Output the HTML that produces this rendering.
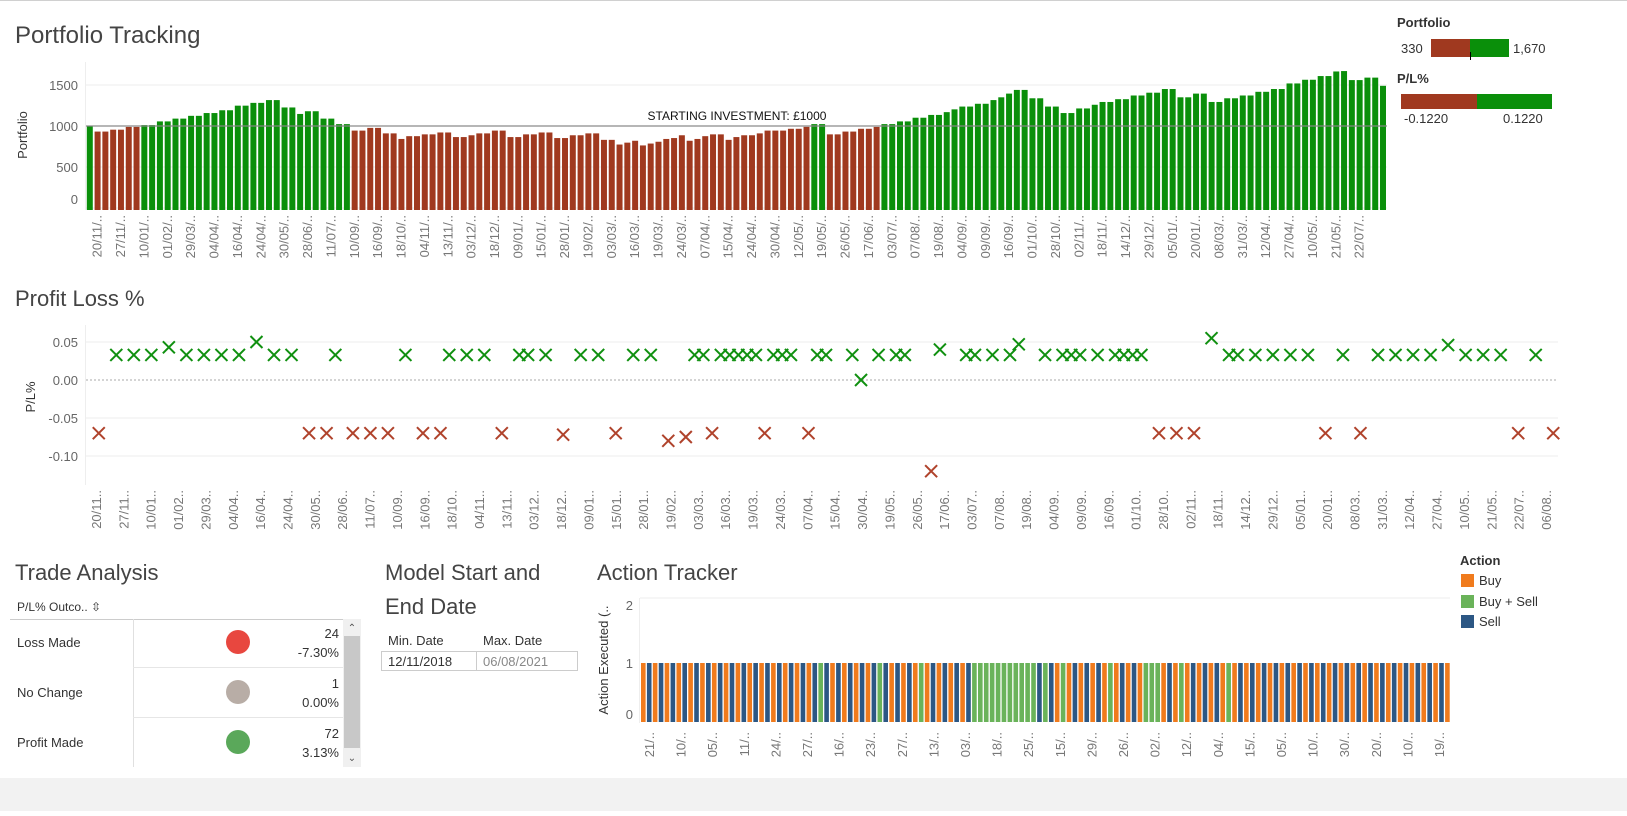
<!DOCTYPE html>
<html><head><meta charset="utf-8"><style>
body{margin:0;background:#fff;font-family:"Liberation Sans",sans-serif;}
svg text{font-family:"Liberation Sans",sans-serif;}
</style></head><body>
<svg id="dash" width="1627" height="811" xmlns="http://www.w3.org/2000/svg">
<rect x="0" y="0" width="1627" height="1" fill="#d0d0d0"/>
<rect x="0" y="778" width="1627" height="33" fill="#f2f2f2"/>
<text x="15" y="43" font-size="24" fill="#444">Portfolio Tracking</text>
<text x="15" y="306" font-size="22" fill="#444">Profit Loss %</text>
<text x="15" y="580" font-size="22" fill="#444">Trade Analysis</text>
<text x="385" y="580" font-size="22" fill="#444">Model Start and</text>
<text x="385" y="614" font-size="22" fill="#444">End Date</text>
<text x="597" y="580" font-size="22" fill="#444">Action Tracker</text>

<g>
<text x="1397" y="27" font-size="13" font-weight="bold" fill="#333">Portfolio</text>
<text x="1401" y="53" font-size="13" fill="#333">330</text>
<rect x="1431" y="39" width="40" height="18" fill="#a0391f"/>
<rect x="1470" y="39" width="39" height="18" fill="#0a8f0a"/>
<rect x="1470" y="52" width="1" height="8" fill="#000"/>
<text x="1513" y="53" font-size="13" fill="#333">1,670</text>
<text x="1397" y="83" font-size="13" font-weight="bold" fill="#333">P/L%</text>
<rect x="1401" y="94" width="76" height="15" fill="#a0391f"/>
<rect x="1477" y="94" width="75" height="15" fill="#0a8f0a"/>
<text x="1404" y="123" font-size="13" fill="#333">-0.1220</text>
<text x="1503" y="123" font-size="13" fill="#333">0.1220</text>
</g>

<g>
<text x="17" y="611" font-size="12" fill="#333">P/L% Outco.. ⇳</text>
<rect x="10" y="619" width="333" height="1" fill="#ccc"/>
<rect x="133" y="619" width="1" height="148" fill="#e0e0e0"/>
<rect x="133" y="667" width="210" height="1" fill="#e6e6e6"/>
<rect x="133" y="717" width="210" height="1" fill="#e6e6e6"/>
<text x="17" y="647" font-size="13" fill="#333">Loss Made</text>
<text x="17" y="697" font-size="13" fill="#333">No Change</text>
<text x="17" y="747" font-size="13" fill="#333">Profit Made</text>
<circle cx="238" cy="642" r="12" fill="#e8473f"/>
<circle cx="238" cy="692" r="12" fill="#b8ada6"/>
<circle cx="238" cy="742" r="12" fill="#5aa85a"/>
<g font-size="13" fill="#333" text-anchor="end">
<text x="339" y="638">24</text>
<text x="339" y="657">-7.30%</text>
<text x="339" y="688">1</text>
<text x="339" y="707">0.00%</text>
<text x="339" y="738">72</text>
<text x="339" y="757">3.13%</text>
</g>
<rect x="343" y="619" width="18" height="148" fill="#f0f0f0"/>
<rect x="344" y="636" width="16" height="112" fill="#c8c8c8"/>
<text x="352" y="631" font-size="10" fill="#555" text-anchor="middle">⌃</text>
<text x="352" y="761" font-size="10" fill="#555" text-anchor="middle">⌄</text>
</g>

<g>
<text x="388" y="645" font-size="13" fill="#333">Min. Date</text>
<text x="483" y="645" font-size="13" fill="#333">Max. Date</text>
<rect x="381.5" y="651.5" width="196" height="19" fill="none" stroke="#ccc"/>
<rect x="476" y="652" width="1" height="18" fill="#ccc"/>
<text x="388" y="666" font-size="13" fill="#333">12/11/2018</text>
<text x="483" y="666" font-size="13" fill="#888">06/08/2021</text>
</g>

<g>
<text x="1460" y="565" font-size="13" font-weight="bold" fill="#333">Action</text>
<rect x="1461" y="574" width="13" height="13" fill="#f07b1d"/>
<text x="1479" y="585" font-size="13" fill="#333">Buy</text>
<rect x="1461" y="595" width="13" height="13" fill="#6ab35a"/>
<text x="1479" y="606" font-size="13" fill="#333">Buy + Sell</text>
<rect x="1461" y="615" width="13" height="13" fill="#2c5784"/>
<text x="1479" y="626" font-size="13" fill="#333">Sell</text>
</g>
<g id="charts"></g>
</svg>
<script>
const portfolioValues=[1000,932,932,955,955,989,989,1011,1011,1056,1056,1090,1090,1124,1124,1158,1158,1192,1192,1248,1248,1282,1282,1316,1316,1226,1226,1147,1180,1180,1090,1090,1023,1023,944,944,977,977,910,910,842,876,876,898,898,921,921,865,865,887,910,910,944,944,865,865,898,898,921,921,853,853,887,887,910,910,831,831,774,797,820,763,786,808,842,
853,887,820,842,876,898,898,831,865,887,887,910,944,944,944,966,966,990,1023,1023,898,898,932,932,966,966,989,1023,1023,1056,1056,1101,1101,1135,1135,1169,1203,1237,1237,1271,1271,1316,1350,1395,1440,1440,1338,1338,1237,1237,1158,1158,1214,1214,1259,1293,1293,1327,1327,1372,1372,1406,1406,1451,1451,1350,1350,1395,1395,1293,1293,1338,1338,1372,1372,1417,1417,1451,1451,1519,1519,1564,1564,1609,1609,1665,1670,1560,1560,1590,1590,1490];
const portfolioTicks=[0,500,1000,1500];
const portfolioLabels=["20/11/..","27/11/..","10/01/..","01/02/..","29/03/..","04/04/..","16/04/..","24/04/..","30/05/..","28/06/..","11/07/..","10/09/..","16/09/..","18/10/..","04/11/..","13/11/..","03/12/..","18/12/..","09/01/..","15/01/..","28/01/..","19/02/..","03/03/..","16/03/..","19/03/..","24/03/..","07/04/..","15/04/..","24/04/..","30/04/..","12/05/..","19/05/..","26/05/..","17/06/..","03/07/..","07/08/..","19/08/..","04/09/..","09/09/..","16/09/..","01/10/..","28/10/..","02/11/..","18/11/..","14/12/..","29/12/..","05/01/..","20/01/..","08/03/..","31/03/..","12/04/..","27/04/..","10/05/..","21/05/..","22/07/.."];
const startingInvestment=1000;

const plIndex=[3,5,7,9,11,13,15,17,19,21,23,28,36,41,43,45,49,50,52,56,58,62,64,69,70,72,73,74,75,76,78,79,80,83,84,87,88,90,92,93,97,100,101,103,105,106,109,111,112,113,115,117,118,119,120,128,130,131,133,135,137,139,143,147,149,151,153,155,157,159,161,165,
1,25,27,30,32,34,38,40,47,54,60,66,68,71,77,82,96,122,124,126,141,145,163,167];
const plValue=[0.033,0.033,0.033,0.043,0.033,0.033,0.033,0.033,0.05,0.033,0.033,0.033,0.033,0.033,0.033,0.033,0.033,0.033,0.033,0.033,0.033,0.033,0.033,0.033,0.033,0.033,0.033,0.033,0.033,0.033,0.033,0.033,0.033,0.033,0.033,0.033,0.0,0.033,0.033,0.033,0.04,0.033,0.033,0.033,0.033,0.047,0.033,0.033,0.033,0.033,0.033,0.033,0.033,0.033,0.033,0.055,0.033,0.033,0.033,0.033,0.033,0.033,0.033,0.033,0.033,0.033,0.033,0.046,0.033,0.033,0.033,0.033,
-0.07,-0.07,-0.07,-0.07,-0.07,-0.07,-0.07,-0.07,-0.07,-0.072,-0.07,-0.08,-0.075,-0.07,-0.07,-0.07,-0.12,-0.07,-0.07,-0.07,-0.07,-0.07,-0.07,-0.07];
const plTicks=[0.05,0.00,-0.05,-0.10];
const plTickLabels=["0.05","0.00","-0.05","-0.10"];
const plLabels=["20/11..","27/11..","10/01..","01/02..","29/03..","04/04..","16/04..","24/04..","30/05..","28/06..","11/07..","10/09..","16/09..","18/10..","04/11..","13/11..","03/12..","18/12..","09/01..","15/01..","28/01..","19/02..","03/03..","16/03..","19/03..","24/03..","07/04..","15/04..","30/04..","19/05..","26/05..","17/06..","03/07..","07/08..","19/08..","04/09..","09/09..","16/09..","01/10..","28/10..","02/11..","18/11..","14/12..","29/12..","05/01..","20/01..","08/03..","31/03..","12/04..","27/04..","10/05..","21/05..","22/07..","06/08.."];
const plCategories=168;

const actions=("OBOBOBOBOB"+"OBOBOBOBOB"+"OBOBOBOBOB"+"GBOBOBOBOB"+"GBOBOBOGOB"+"OBOBOBGGGG"+"GGGGGGGBGB"+"OGOBOBOBOG"+"OBOBOGGGOB"+"OGOBOBOBOG"+"OBOBOBOBOB"+"OBOBOBOBOB"+"OBOBOBOBOB"+"OBOBOBO").split("");
const actionValue=1;
const actionTicks=[0,1,2];
const actionLabels=["21/..","10/..","05/..","11/..","24/..","27/..","16/..","23/..","27/..","13/..","03/..","18/..","25/..","15/..","29/..","26/..","02/..","12/..","04/..","15/..","05/..","10/..","30/..","20/..","10/..","19/.."];

const NS="http://www.w3.org/2000/svg";
const root=document.getElementById('charts');
function mk(tag,attrs,parent){const e=document.createElementNS(NS,tag);for(const k in attrs)e.setAttribute(k,attrs[k]);(parent||root).appendChild(e);return e;}

const pL=86,pR=1387,pBase=208,pScale=41/500;
const pPitch=(pR-pL)/portfolioValues.length;
const py=v=>pBase-v*pScale;
const px=i=>pL+i*pPitch;
const gP=mk('g',{});


portfolioTicks.forEach(t=>{
  const gl=mk('line',{x1:pL,x2:pR,y1:py(t),y2:py(t),stroke:'#eee'},gP);
  
  
  const tx=mk('text',{x:78,y:(t===0?py(t)-4:py(t)+5),'font-size':13,fill:'#666','text-anchor':'end'},gP);
  tx.textContent=t;
  
  
});
mk('line',{x1:pL-0.5,x2:pL-0.5,y1:62,y2:pBase+2,stroke:'#eee'},gP);
const yt=mk('text',{transform:'translate(27,135) rotate(-90)','font-size':13,fill:'#333','text-anchor':'middle'},gP);
yt.textContent='Portfolio';


portfolioValues.forEach((v,i)=>{
  const r=mk('rect',{x:px(i)+0.8,y:py(v),width:pPitch-1.8,height:pBase+2-py(v),fill:v>=startingInvestment?'#0a8f0a':'#a0391f'},gP);
  
  
});
const ref=mk('line',{x1:pL,x2:pR,y1:py(startingInvestment),y2:py(startingInvestment),stroke:'#888','stroke-width':1.5,opacity:0.8},gP);


const rl=mk('text',{x:737,y:py(startingInvestment)-6,'font-size':12,fill:'#111','text-anchor':'middle'},gP);
rl.textContent='STARTING INVESTMENT: £'+startingInvestment;


portfolioLabels.forEach((l,k)=>{
  const cx=px(1+k*3)+pPitch/2+4;
  const t=mk('text',{transform:`translate(${cx},215) rotate(-90)`,'font-size':13,fill:'#777','text-anchor':'end'},gP);
  t.textContent=l;
  
  
});

const sL=86,sR=1558,sTop=325,sBot=485;
const sPitch=(sR-sL)/plCategories;
const sx=i=>sL+4+i*sPitch;
const sy=v=>380-v*760;
const gS=mk('g',{});


mk('line',{x1:sL-0.5,x2:sL-0.5,y1:sTop,y2:sBot,stroke:'#eee'},gS);
plTicks.forEach((t,k)=>{
  if(t!==0){const gl=mk('line',{x1:sL,x2:sR,y1:sy(t),y2:sy(t),stroke:'#eee'},gS);
  
  }
  const tx=mk('text',{x:78,y:sy(t)+5,'font-size':13,fill:'#666','text-anchor':'end'},gS);
  tx.textContent=plTickLabels[k];
  
  
});
const zl=mk('line',{x1:sL,x2:sR,y1:sy(0),y2:sy(0),stroke:'#aaa','stroke-dasharray':'2,2'},gS);


const yt2=mk('text',{transform:'translate(35,397) rotate(-90)','font-size':13,fill:'#333','text-anchor':'middle'},gS);
yt2.textContent='P/L%';


plIndex.forEach((idx,k)=>{
  const v=plValue[k],cx=sx(idx),cy=sy(v),c=v>=0?'#109010':'#b0432c';
  const g=mk('path',{d:`M${cx-6},${cy-6}L${cx+6},${cy+6}M${cx+6},${cy-6}L${cx-6},${cy+6}`,stroke:c,'stroke-width':2,fill:'none'},gS);
  
  
});
plLabels.forEach((l,k)=>{
  const cx=sL+11+k*((sR-sL-22)/(plLabels.length-1))+4;
  const t=mk('text',{transform:`translate(${cx},490) rotate(-90)`,'font-size':13,fill:'#777','text-anchor':'end'},gS);
  t.textContent=l;
  
  
});

const aL=640,aR=1450,aBase=721,aUnit=58;
const aPitch=(aR-aL)/actions.length;
const ay=v=>aBase-v*aUnit;
const colors={O:'#f07b1d',B:'#2c5784',G:'#6ab35a'};
const gA=mk('g',{});


mk('line',{x1:aL-0.5,x2:aL-0.5,y1:598,y2:aBase+2,stroke:'#eee'},gA);
mk('line',{x1:aL,x2:1450,y1:598,y2:598,stroke:'#eee'},gA);
actionTicks.forEach(t=>{
  const tx=mk('text',{x:633,y:Math.min(ay(t)+5,719),'font-size':13,fill:'#666','text-anchor':'end'},gA);
  tx.textContent=t;
  
  
});
const yt3=mk('text',{transform:'translate(608,660) rotate(-90)','font-size':13,fill:'#333','text-anchor':'middle'},gA);
yt3.textContent='Action Executed (..';


actions.forEach((a,i)=>{
  const r=mk('rect',{x:aL+1+i*aPitch,y:ay(actionValue),width:aPitch-1.3,height:actionValue*aUnit+1,fill:colors[a]},gA);
  
  
});
actionLabels.forEach((l,k)=>{
  const cx=aL+10+k*((aR-aL-20)/(actionLabels.length-1))+4;
  const t=mk('text',{transform:`translate(${cx},732) rotate(-90)`,'font-size':13,fill:'#777','text-anchor':'end'},gA);
  t.textContent=l;
  
  
});
</script>
</body></html>
